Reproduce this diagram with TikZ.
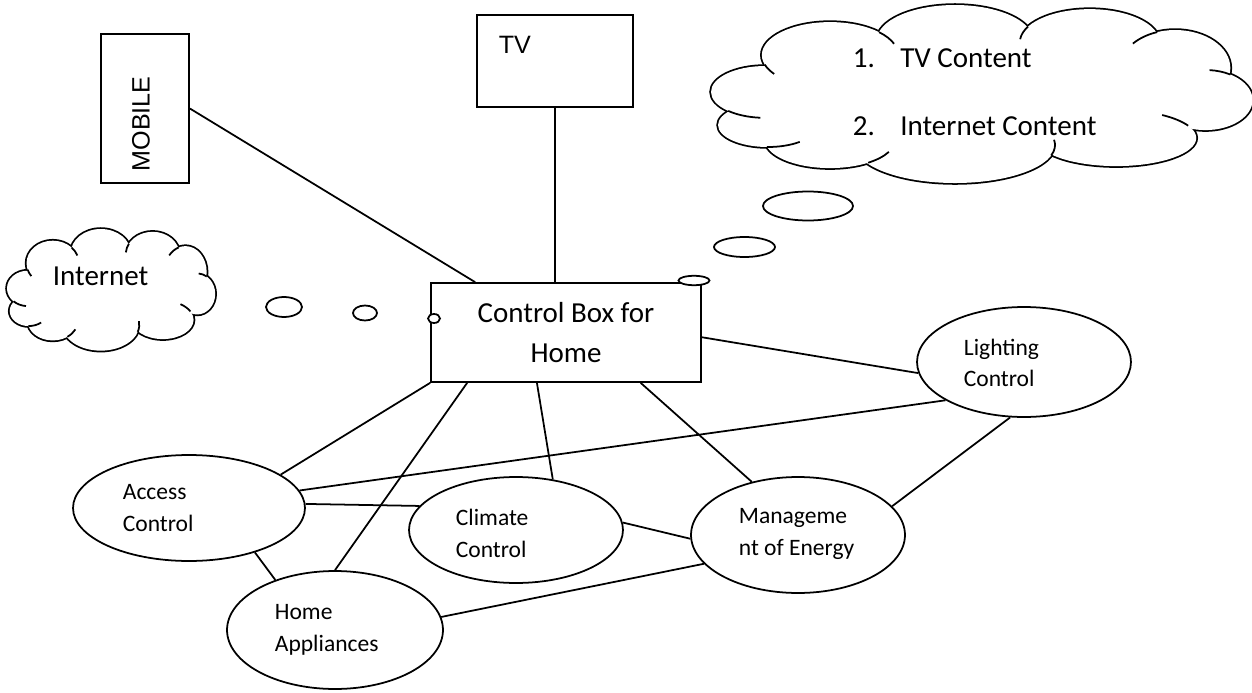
\documentclass[tikz,border=0pt]{standalone}
\usepackage{fontspec}
\setmainfont{Carlito}
\newfontfamily\arialfont{Liberation Sans}
\usetikzlibrary{shapes.geometric}

% puffs of a cloud in a unit box: centre u/v, radii a/b
\newcommand{\cloudpuffs}{0.100/0.483/0.100/0.144, 0.220/0.278/0.126/0.183,
    0.451/0.194/0.144/0.194, 0.700/0.206/0.129/0.183, 0.858/0.350/0.102/0.211,
    0.914/0.528/0.087/0.167, 0.749/0.739/0.148/0.156, 0.451/0.778/0.185/0.211,
    0.220/0.750/0.120/0.156, 0.105/0.667/0.092/0.122, 0.501/0.500/0.397/0.333}
% short inner strokes: puff, then start and end angle
\newcommand{\cloudstubs}{0.220/0.278/0.126/0.183/-44/-20, 0.220/0.278/0.126/0.183/163/145,
    0.700/0.206/0.129/0.183/-152/-175, 0.858/0.350/0.102/0.211/-109/-140,
    0.914/0.528/0.087/0.167/-58/-85, 0.749/0.739/0.148/0.156/-26/-55,
    0.451/0.778/0.185/0.211/16/-8, 0.220/0.750/0.120/0.156/54/25,
    0.105/0.667/0.092/0.122/91/50, 0.100/0.483/0.100/0.144/133/95}

\begin{document}
\begin{tikzpicture}[x=0.02cm, y=-0.02cm, line width=1pt,
        box/.style={draw, rectangle, inner sep=0pt},
        oval/.style={draw, ellipse, inner sep=0pt},
        txt/.style={anchor=west, align=left, inner sep=0pt},
        ovaltext/.style={txt, font=\fontsize{13.4}{18}\selectfont},
        bigtext/.style={font=\fontsize{16.5}{22.7}\selectfont},
        arialtext/.style={inner sep=0pt, font=\arialfont\fontsize{14.3}{17}\selectfont}]
    \useasboundingbox (0,0) rectangle (1252,693);

    % clouds
    \begin{scope}[shift={(711,5)}, xscale=541, yscale=180]
        \foreach \u/\v/\a/\b in \cloudpuffs
            \draw[line width=2pt] (\u,\v) ellipse [x radius=\a, y radius=\b];
        \foreach \u/\v/\a/\b in \cloudpuffs
            \fill[white] (\u,\v) ellipse [x radius=\a, y radius=\b];
        \foreach \u/\v/\a/\b/\s/\e in \cloudstubs
            \draw ({\u+\a*cos(\s)},{\v+\b*sin(\s)}) arc [start angle=\s, end angle=\e, x radius=\a, y radius=\b];
    \end{scope}
    \begin{scope}[shift={(7,229)}, xscale=208, yscale=123]
        \foreach \u/\v/\a/\b in \cloudpuffs
            \draw[line width=2pt] (\u,\v) ellipse [x radius=\a, y radius=\b];
        \foreach \u/\v/\a/\b in \cloudpuffs
            \fill[white] (\u,\v) ellipse [x radius=\a, y radius=\b];
        \foreach \u/\v/\a/\b/\s/\e in \cloudstubs
            \draw ({\u+\a*cos(\s)},{\v+\b*sin(\s)}) arc [start angle=\s, end angle=\e, x radius=\a, y radius=\b];
    \end{scope}
    \node[txt, font=\fontsize{16.5}{38.6}\selectfont] (contenttext) at (852,92)
        {\makebox[27pt][l]{1.}TV Content\\\makebox[27pt][l]{2.}Internet Content};
    \node[txt, bigtext] (internettext) at (52,276) {Internet};

    % devices
    \node[box, minimum width=1.76cm, minimum height=2.98cm] (mobile) at (145,108.5) {};
    \node[arialtext, rotate=90] (mobiletext) at (141,124) {MOBILE};
    \node[box, minimum width=3.12cm, minimum height=1.84cm] (tv) at (555,61) {};
    \node[arialtext, anchor=west] (tvtext) at (498,45) {TV};
    \node[box, bigtext, align=center, minimum width=5.4cm, minimum height=1.98cm] (ctrl) at (566,332.5) {Control Box for\\Home};

    % thought bubbles
    \draw (808,206) ellipse [x radius=45, y radius=14.5];
    \draw (744.5,247) ellipse [x radius=30.5, y radius=10];
    \draw[fill=white] (694,280.5) ellipse [x radius=15.5, y radius=4.7];
    \draw (284,307) ellipse [x radius=18, y radius=10];
    \draw (365,313) ellipse [x radius=12, y radius=7.5];
    \draw[fill=white] (434,318.5) ellipse [x radius=6, y radius=4.5];

    % functions
    \node[oval, minimum width=4.28cm, minimum height=2.2cm] (lighting) at (1024,362) {};
    \node[ovaltext] (lightingtext) at (963,363) {Lighting\\Control};
    \node[oval, minimum width=4.64cm, minimum height=2.12cm] (access) at (189,508) {};
    \node[ovaltext] (accesstext) at (122,508) {Access\\Control};
    \node[oval, minimum width=4.28cm, minimum height=2.12cm] (climate) at (516,530) {};
    \node[ovaltext] (climatetext) at (455,533.5) {Climate\\Control};
    \node[oval, minimum width=4.28cm, minimum height=2.32cm] (mgmt) at (798,535) {};
    \node[ovaltext] (mgmttext) at (738,534) {Manageme\\nt of Energy};
    \node[oval, minimum width=4.32cm, minimum height=2.36cm] (home) at (335,630) {};
    \node[ovaltext] (hometext) at (274,630) {Home\\Appliances};

    \draw (mobile.east) -- (ctrl.151);
    \draw (tv.south) -- (tv.south |- ctrl.north);
    \draw (ctrl.358) -- (lighting.186);
    \draw (ctrl.south west) -- (access.20);
    \draw (ctrl.207) -- (home.north);
    \draw (ctrl.240) -- (climate.54);
    \draw (ctrl.326) -- (mgmt.131);
    \draw (lighting.206) -- (access.9);
    \draw (lighting.256) -- (mgmt.17);
    \draw (access.2) -- (climate.166);
    \draw (access.326) -- (home.140);
    \draw (climate.4) -- (mgmt.182);
    \draw (home.7) -- (mgmt.197);
\end{tikzpicture}
\end{document}
